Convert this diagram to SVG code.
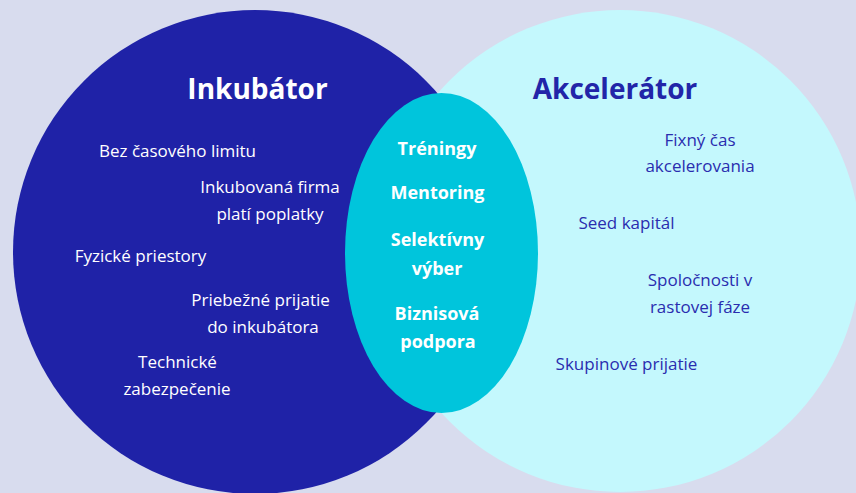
<svg xmlns="http://www.w3.org/2000/svg" width="856" height="493" viewBox="0 0 856 493">
<style>
.t{font-family:"Open Sans","DejaVu Sans",sans-serif;text-anchor:middle}
.title{font-size:28px;font-weight:700}
.body{font-size:17px}
.mid{font-size:18px;font-weight:700;fill:#ffffff}
.w{fill:#ffffff}
.d{fill:#2a2daf}
</style>
<rect width="856" height="493" fill="#d8dcee"/>
<g id="inkubator">
<circle cx="255" cy="252" r="242" fill="#1f22a7"/>
<text class="t title w" x="257.5" y="99">Inkubátor</text>
<text class="t body w" x="177.5" y="157">Bez časového limitu</text>
<text class="t body w" x="270" y="193">Inkubovaná firma</text>
<text class="t body w" x="270" y="220">platí poplatky</text>
<text class="t body w" x="140.5" y="262">Fyzické priestory</text>
<text class="t body w" x="260.5" y="306">Priebežné prijatie</text>
<text class="t body w" x="263" y="333">do inkubátora</text>
<text class="t body w" x="177.5" y="368">Technické</text>
<text class="t body w" x="177" y="395">zabezpečenie</text>
</g>
<g id="akcelerator">
<circle cx="620" cy="251" r="241" fill="#c4f8fd"/>
<text class="t title" fill="#2225a8" x="615" y="99">Akcelerátor</text>
<text class="t body d" x="700" y="146">Fixný čas</text>
<text class="t body d" x="700" y="172">akcelerovania</text>
<text class="t body d" x="626.5" y="229">Seed kapitál</text>
<text class="t body d" x="700" y="286">Spoločnosti v</text>
<text class="t body d" x="700" y="313">rastovej fáze</text>
<text class="t body d" x="626.5" y="370">Skupinové prijatie</text>
</g>
<g id="spolocne">
<ellipse cx="441.5" cy="253" rx="96.5" ry="160" fill="#00c5dc"/>
<text class="t mid" x="437" y="155">Tréningy</text>
<text class="t mid" x="437.5" y="199">Mentoring</text>
<text class="t mid" x="437.5" y="246">Selektívny</text>
<text class="t mid" x="437" y="275">výber</text>
<text class="t mid" x="437" y="320">Biznisová</text>
<text class="t mid" x="438" y="348">podpora</text>
</g>
<g id="connectors"/>
</svg>
